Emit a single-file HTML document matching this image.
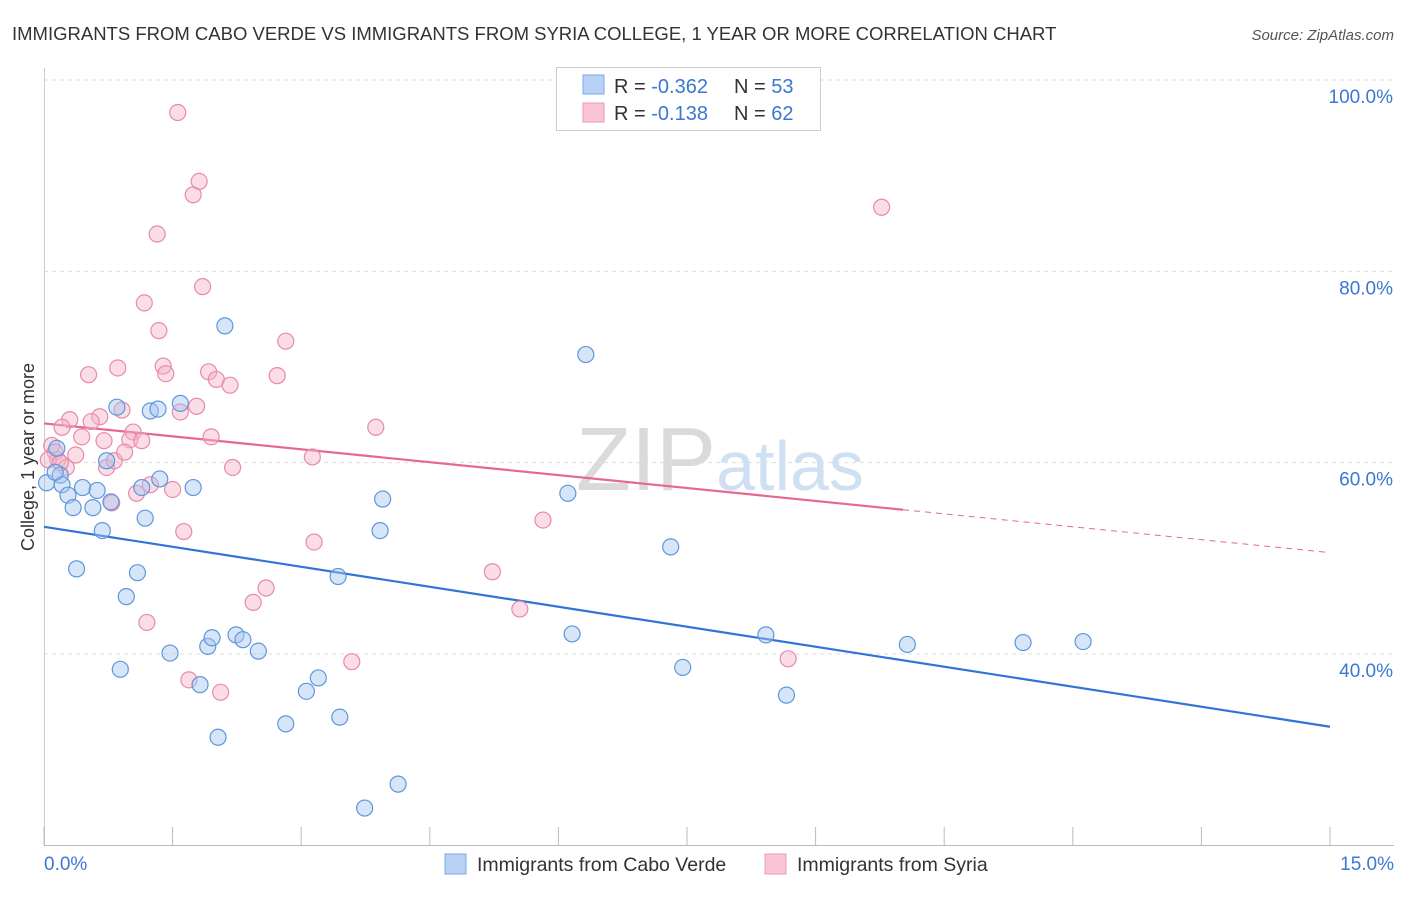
<!DOCTYPE html>
<html><head><meta charset="utf-8"><style>
body{margin:0;background:#fff;font-family:"Liberation Sans",sans-serif;}
svg text{font-family:"Liberation Sans",sans-serif;}
</style></head><body>
<svg id="chart" width="1406" height="892" xmlns="http://www.w3.org/2000/svg">
<text x="12" y="40" font-size="18.5" fill="#333">IMMIGRANTS FROM CABO VERDE VS IMMIGRANTS FROM SYRIA COLLEGE, 1 YEAR OR MORE CORRELATION CHART</text>
<text x="1394" y="40" font-size="15" fill="#555" text-anchor="end" font-style="italic">Source: ZipAtlas.com</text>
<g id="grid"></g>
<text x="720" y="490" font-size="90" text-anchor="middle" fill="#e4e4e4" font-family="Liberation Serif"><tspan fill="#dadada">ZIP</tspan><tspan fill="#cfe0f3" font-family="Liberation Sans" font-size="70">atlas</tspan></text>
<g id="trend"></g>
<g id="points"></g>
<text transform="translate(34,457) rotate(-90)" font-size="18" fill="#333" text-anchor="middle">College, 1 year or more</text>
<g>
<rect x="556.5" y="67.5" width="264" height="63" fill="#fff" stroke="#ccc"/>
<rect x="583" y="75" width="21" height="19" fill="#b8d2f5" stroke="#7aa8e8"/>
<rect x="583" y="103" width="21" height="19" fill="#f9c4d4" stroke="#ef9ab5"/>
<text x="614" y="93" font-size="20" fill="#333">R = <tspan fill="#3a78d4">-0.362</tspan></text>
<text x="734" y="93" font-size="20" fill="#333">N = <tspan fill="#3a78d4">53</tspan></text>
<text x="614" y="120" font-size="20" fill="#333">R =  <tspan fill="#3a78d4">-0.138</tspan></text>
<text x="734" y="120" font-size="20" fill="#333">N = <tspan fill="#3a78d4">62</tspan></text>
</g>
<g>
<rect x="445" y="854" width="21" height="20" fill="#b8d2f5" stroke="#7aa8e8"/>
<text x="477" y="871" font-size="19.5" fill="#333">Immigrants from Cabo Verde</text>
<rect x="765" y="854" width="21" height="20" fill="#f9c4d4" stroke="#ef9ab5"/>
<text x="797" y="871" font-size="19.5" fill="#333">Immigrants from Syria</text>
</g>
</svg>
<script>
const xTicks=[0,1.5,3,4.5,6,7.5,9,10.5,12,13.5,15];
const yTicks=[40,60,80,100];
const yTickLabels=["40.0%","60.0%","80.0%","100.0%"];
const blueX=[0.03,0.15,0.19,0.21,0.28,0.34,0.38,0.45,0.57,0.62,0.68,0.73,0.78,0.85,0.89,0.96,1.09,1.14,1.18,1.24,1.33,1.35,1.47,1.59,1.74,1.82,1.91,1.96,2.03,2.11,2.24,2.32,2.50,2.82,3.06,3.20,3.43,3.45,3.74,3.92,3.95,4.13,6.11,6.16,6.32,7.31,7.45,8.42,8.66,10.07,11.42,12.12,0.13];
const blueY=[57.9,61.5,58.7,57.7,56.6,55.3,48.9,57.4,55.3,57.1,52.9,60.2,55.9,65.8,38.4,46.0,48.5,57.4,54.2,65.4,65.6,58.3,40.1,66.2,57.4,36.8,40.8,41.7,31.3,74.3,42.0,41.5,40.3,32.7,36.1,37.5,48.1,33.4,23.9,52.9,56.2,26.4,56.8,42.1,71.3,51.2,38.6,42.0,35.7,41.0,41.2,41.3,59.0];
const pinkX=[1.56,1.74,1.81,1.32,9.77,1.17,1.85,1.34,2.82,0.86,0.52,1.39,1.42,1.92,2.01,2.17,2.72,0.91,1.78,1.59,0.30,0.65,0.55,0.21,0.44,0.70,1.04,1.00,1.14,1.95,3.87,0.09,0.13,0.16,0.26,0.37,0.73,0.82,0.94,1.24,1.08,1.50,2.20,3.13,0.79,1.63,5.82,3.15,2.59,2.44,5.23,5.55,1.20,3.59,1.69,2.06,8.68,0.05,0.19];
const pinkY=[96.6,88.0,89.4,83.9,86.7,76.7,78.4,73.8,72.7,69.9,69.2,70.1,69.3,69.5,68.7,68.1,69.1,65.5,65.9,65.3,64.5,64.8,64.3,63.7,62.7,62.3,63.2,62.4,62.3,62.7,63.7,61.8,61.1,60.3,59.5,60.8,59.5,60.2,61.1,57.7,56.8,57.2,59.5,60.6,55.8,52.8,54.0,51.7,46.9,45.4,48.6,44.7,43.3,39.2,37.3,36.0,39.5,60.3,60.0];
const blueTrend=[53.3,32.4];
const pinkTrend=[64.1,50.6];
const pinkSolidEnd=10.02;

const NS="http://www.w3.org/2000/svg";
const X=v=>44+v/15*1286;
const Y=v=>80+(100-v)*9.567;
function mk(t,a,p){const e=document.createElementNS(NS,t);for(const k in a)e.setAttribute(k,a[k]);p.appendChild(e);return e;}
const grid=document.getElementById('grid');
yTicks.forEach((t,i)=>{
  const l=mk('line',{x1:44,x2:1394,y1:Y(t),y2:Y(t),stroke:'#ddd','stroke-dasharray':'4,4'},grid);
  
  
  const tx=mk('text',{x:1393,y:Y(t)+23,'font-size':19,fill:'#3a78d4','text-anchor':'end'},grid);
  tx.textContent=yTickLabels[i];
  
  
});
const ax=mk('line',{x1:44,x2:1394,y1:845.5,y2:845.5,stroke:'#bbb'},grid);


const ay=mk('line',{x1:44.5,x2:44.5,y1:68,y2:845,stroke:'#ccc'},grid);


xTicks.forEach(t=>{
  const l=mk('line',{x1:X(t),x2:X(t),y1:827,y2:845,stroke:'#bbb'},grid);
  
  
});
const xl0=mk('text',{x:44,y:870,'font-size':19,fill:'#3a78d4'},grid);xl0.textContent=xTicks[0].toFixed(1)+'%';


const xl1=mk('text',{x:1394,y:870,'font-size':19,fill:'#3a78d4','text-anchor':'end'},grid);xl1.textContent=xTicks[xTicks.length-1].toFixed(1)+'%';



const pts=document.getElementById('points');
function dots(xs,ys,fill,stroke,name){xs.forEach((x,i)=>{
  const c=mk('circle',{cx:X(x),cy:Y(ys[i]),r:8,fill:fill,'fill-opacity':0.45,stroke:stroke,'stroke-width':1.2},pts);
  
  
});}
dots(pinkX,pinkY,'#f5b3c8','#e88aa9','point-syria');
dots(blueX,blueY,'#a6c6ef','#5f97dc','point-cabo-verde');

const tr=document.getElementById('trend');
const b=mk('line',{x1:X(0),y1:Y(blueTrend[0]),x2:X(15),y2:Y(blueTrend[1]),stroke:'#2f74d6','stroke-width':2.2},tr);


const py=x=>pinkTrend[0]+(pinkTrend[1]-pinkTrend[0])*x/15;
const p=mk('line',{x1:X(0),y1:Y(pinkTrend[0]),x2:X(pinkSolidEnd),y2:Y(py(pinkSolidEnd)),stroke:'#e5688f','stroke-width':2.2},tr);


const pd=mk('line',{x1:X(pinkSolidEnd),y1:Y(py(pinkSolidEnd)),x2:X(15),y2:Y(pinkTrend[1]),stroke:'#e5688f','stroke-width':1,'stroke-dasharray':'6,5'},tr);


</script>
</body></html>
